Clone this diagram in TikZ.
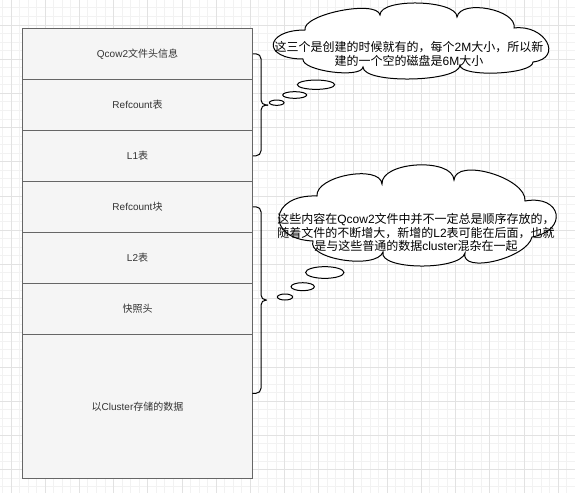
\documentclass[tikz,border=0pt]{standalone}
\usepackage{fontspec}
\setmainfont{Liberation Sans}
\newfontfamily\cjk{Noto Sans CJK SC}
\usetikzlibrary{shapes.geometric}
\definecolor{cellfill}{HTML}{F5F5F5}
\definecolor{cellstroke}{HTML}{666666}
\definecolor{celltext}{HTML}{333333}
\definecolor{gridminor}{HTML}{F2F2F2}
\definecolor{gridmajor}{HTML}{E2E2E2}
\begin{document}
\begin{tikzpicture}[x=1pt,y=-1pt,
  cellbox/.style={draw=cellstroke, fill=cellfill, line width=1pt, minimum width=229.6pt, inner sep=0pt, text=celltext, font=\fontsize{10}{12}\selectfont},
  bubble/.style={draw=black, fill=white, line width=1pt},
  puff/.style={ellipse, draw=black, fill=white, line width=1pt, inner sep=0pt},
  bracestyle/.style={draw=black, line width=1pt, rounded corners=5pt},
  cloudtext/.style={align=center, inner sep=0pt, text=black},
  minorline/.style={draw=gridminor, line width=1pt},
  majorline/.style={draw=gridmajor, line width=1pt}
]
\useasboundingbox (0,0) rectangle (575,493);
\fill[white] (0,0) rectangle (575,493);
% grid
\foreach \i in {-1,...,66} \draw[minorline] ({11+8.55*\i},0) -- ({11+8.55*\i},493);
\foreach \i in {-2,...,54} \draw[minorline] (0,{25+8.55*\i}) -- (575,{25+8.55*\i});
\foreach \i in {0,...,16} \draw[majorline] ({11+34.2*\i},0) -- ({11+34.2*\i},493);
\foreach \i in {0,...,13} \draw[majorline] (0,{25+34.2*\i}) -- (575,{25+34.2*\i});

% stack of cells
\node[cellbox, minimum height=51pt] (r1) at (137.5,53.8) {Qcow2{\cjk 文件头信息}};
\node[cellbox, minimum height=51pt] (r2) at (137.5,104.8) {Refcount{\cjk 表}};
\node[cellbox, minimum height=51pt] (r3) at (137.5,155.8) {L1{\cjk 表}};
\node[cellbox, minimum height=51pt] (r4) at (137.5,206.8) {Refcount{\cjk 块}};
\node[cellbox, minimum height=51pt] (r5) at (137.5,257.8) {L2{\cjk 表}};
\node[cellbox, minimum height=51pt] (r6) at (137.5,308.8) {{\cjk 快照头}};
\node[cellbox, minimum height=144pt] (r7) at (137.5,406.3) {{\cjk 以}Cluster{\cjk 存储的数据}};

% braces
\coordinate (b1tip) at (268,105);
\draw[bracestyle] (r1.east) -- (261,53.8) -- (261,105) -- (b1tip);
\draw[bracestyle] (b1tip) -- (261,105) -- (261,155.8) -- (r3.east);
\coordinate (b2tip) at (266.5,300);
\coordinate (b2end) at (252.3,393.3);
\draw[bracestyle] (r4.east) -- (261,206.8) -- (261,300) -- (b2tip);
\draw[bracestyle] (b2tip) -- (261,300) -- (261,393.3) -- (b2end);

% cloud 1
\draw[bubble] (303,59)
  .. controls (262,59) and (264,30) .. (305,30)
  .. controls (301.9,14.3) and (376.9,-0.7) .. (380,15)
  .. controls (380,-2.3) and (457,-0.3) .. (457,17)
  .. controls (460.6,-1.3) and (517.6,9.7) .. (514,28)
  .. controls (545,24) and (564,58) .. (533,62)
  .. controls (533,74.7) and (460,77.7) .. (460,65)
  .. controls (460,82.3) and (363,84.3) .. (363,67)
  .. controls (361.4,78.9) and (301.4,70.9) .. (303,59) -- cycle;
\node[puff, minimum width=14.7pt, minimum height=5.3pt] (e1) at (276.7,102.7) {};
\node[puff, minimum width=24pt, minimum height=6.7pt] (e2) at (294.7,95) {};
\node[puff, minimum width=37.3pt, minimum height=9.3pt] (e3) at (316,84.7) {};
\node[cloudtext, font=\fontsize{12}{14.5}\selectfont] (t1) at (409,53.8)
  {{\cjk 这三个是创建的时候就有的，每个}2M{\cjk 大小，所以新}\\{\cjk 建的一个空的磁盘是}6M{\cjk 大小}};

% cloud 2
\draw[bubble] (313,241)
  .. controls (265,239) and (269,194) .. (317,196)
  .. controls (315,176) and (380,164) .. (382,184)
  .. controls (380.7,161.3) and (452.7,157.3) .. (454,180)
  .. controls (456,157) and (527,178) .. (525,201)
  .. controls (561.7,194.3) and (568.7,230.3) .. (532,237)
  .. controls (527.3,258.3) and (460.3,274.3) .. (465,253)
  .. controls (460,271) and (378,270) .. (383,252)
  .. controls (376.3,270) and (306.3,259) .. (313,241) -- cycle;
\node[puff, minimum width=15.3pt, minimum height=6pt] (e4) at (285,297) {};
\node[puff, minimum width=23.3pt, minimum height=8pt] (e5) at (302.7,286.7) {};
\node[puff, minimum width=38.3pt, minimum height=11.7pt] (e6) at (324.8,272.5) {};
\node[cloudtext, font=\fontsize{12}{13.3}\selectfont] (t2) at (416,232.7)
  {{\cjk 这些内容在}Qcow2{\cjk 文件中并不一定总是顺序存放的，}\\{\cjk 随着文件的不断增大，新增的}L2{\cjk 表可能在后面，也就}\\{\cjk 是与这些普通的数据}cluster{\cjk 混杂在一起}};
\end{tikzpicture}
\end{document}
